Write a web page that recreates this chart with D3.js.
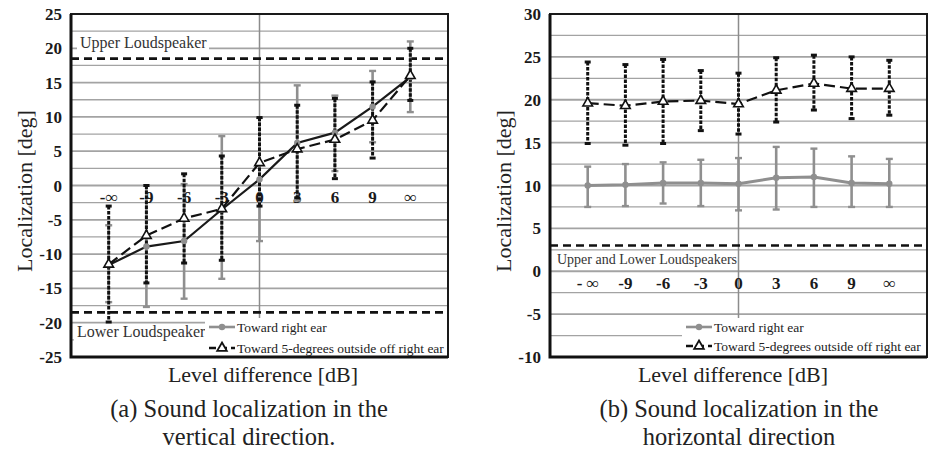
<!DOCTYPE html>
<html>
<head>
<meta charset="utf-8">
<script src="https://cdn.jsdelivr.net/npm/d3@7"></script>
<style>
    body { margin: 0; background: #fff; }
    svg { display: block; font-family: "Liberation Serif", "Times New Roman", serif; }
</style>
</head>
<body>
<svg id="chart" width="928" height="454"></svg>
<script>
// categories (level difference, dB)
const categories = ["-∞", "-9", "-6", "-3", "0", "3", "6", "9", "∞"]
const categoryLabelsA = ["-∞", "-9", "-6", "-3", "0", "3", "6", "9", "∞"]
const categoryLabelsB = ["- ∞", "-9", "-6", "-3", "0", "3", "6", "9", "∞"]

// (a) vertical
const vertEar = [-11.6, -8.9, -8.1, -3.5, 0.9, 6.2, 7.7, 11.5, 15.8]
const vertEarHi = [-5.8, 0.0, 0.2, 7.2, 9.9, 14.6, 13.1, 16.7, 21.0]
const vertEarLo = [-17.0, -17.7, -16.5, -13.6, -8.1, -2.2, 2.1, 6.3, 10.7]
const vertOff = [-11.5, -7.3, -4.8, -3.4, 3.3, 5.3, 6.7, 9.5, 16.0]
const vertOffHi = [-3.0, 0.0, 1.7, 4.3, 9.9, 11.7, 12.7, 15.1, 20.0]
const vertOffLo = [-19.9, -14.2, -11.3, -10.9, -3.0, -1.8, 1.0, 4.0, 12.4]
const vertSpeakers = [18.5, -18.5]
const vertTicks = [-25, -20, -15, -10, -5, 0, 5, 10, 15, 20, 25]

// (b) horizontal
const horEar = [10.0, 10.1, 10.3, 10.3, 10.2, 10.9, 11.0, 10.3, 10.2]
const horEarHi = [12.2, 12.5, 12.7, 13.0, 13.2, 14.5, 14.3, 13.4, 13.1]
const horEarLo = [7.5, 7.6, 7.9, 7.6, 7.1, 7.2, 7.5, 7.5, 7.5]
const horOff = [19.6, 19.3, 19.8, 19.9, 19.5, 21.1, 21.9, 21.3, 21.3]
const horOffHi = [24.4, 24.1, 24.7, 23.4, 23.1, 24.9, 25.2, 25.0, 24.6]
const horOffLo = [14.9, 14.7, 14.9, 16.4, 16.0, 17.4, 18.8, 17.8, 18.2]
const horSpeakers = [3]
const horTicks = [-10, -5, 0, 5, 10, 15, 20, 25, 30]

const legendNames = ["Toward right ear", "Toward 5-degrees outside off right ear"]

const svg = d3.select("#chart")

function panel(cfg) {
    const g = svg.append("g")
    const x = d3.scalePoint().domain(categories).range([cfg.left, cfg.right]).padding(1)
    const y = d3.scaleLinear().domain(cfg.domain).range([cfg.bottom, cfg.top])

    const clipId = "clip-" + cfg.id
    svg.append("defs").append("clipPath").attr("id", clipId)
        .append("rect")
        .attr("x", cfg.left).attr("y", cfg.top)
        .attr("width", cfg.right - cfg.left).attr("height", cfg.bottom - cfg.top)

    /* GRID LINES (every 2.5 deg) */
    g.selectAll(".grid")
        .data(d3.range(cfg.domain[0], cfg.domain[1] + 0.01, 2.5))
        .enter().append("line")
        .attr("x1", cfg.left).attr("x2", cfg.right)
        .attr("y1", d => y(d)).attr("y2", d => y(d))
        .attr("stroke", "#a3a3a3")
        .attr("stroke-width", d => d % 5 === 0 ? 1.8 : 1.3)

    // value axis crossing at 0 dB
    g.append("line")
        .attr("x1", x("0")).attr("x2", x("0"))
        .attr("y1", cfg.top).attr("y2", cfg.bottom)
        .attr("stroke", "#8c8c8c").attr("stroke-width", 1.5)

    /* Y TICK LABELS */
    g.selectAll(".ytick")
        .data(cfg.ticks)
        .enter().append("text")
        .attr("x", cfg.left - 9)
        .attr("y", d => y(d) + 6)
        .attr("text-anchor", "end")
        .attr("font-size", 17)
        .attr("font-weight", "bold")
        .attr("fill", "#1a1a1a")
        .text(d => String(d))

    // loudspeaker reference lines
    g.selectAll(".speaker")
        .data(cfg.speakers)
        .enter().append("line")
        .attr("x1", cfg.left).attr("x2", cfg.right)
        .attr("y1", d => y(d)).attr("y2", d => y(d))
        .attr("stroke", "#111").attr("stroke-width", 2.6)
        .attr("stroke-dasharray", "8,5")

    // loudspeaker labels with white background
    cfg.notes.forEach(n => {
        g.append("rect")
            .attr("x", n.x - 3).attr("y", n.y - 13)
            .attr("width", n.w).attr("height", 17)
            .attr("fill", "#fff")
        g.append("text")
            .attr("x", n.x).attr("y", n.y)
            .attr("font-size", n.size)
            .attr("fill", "#333")
            .text(n.text)
    })

    // category labels next to the horizontal axis
    g.selectAll(".cat")
        .data(categories)
        .enter().append("text")
        .attr("x", d => x(d))
        .attr("y", y(cfg.catLabelAt))
        .attr("text-anchor", "middle")
        .attr("font-size", 17)
        .attr("font-weight", "bold")
        .attr("fill", "#1a1a1a")
        .text((d, i) => cfg.catLabels[i])

    /* ERROR BARS */
    function errorBars(hi, lo, color, dashed, capW) {
        const eb = g.append("g")
        eb.selectAll("line.v")
            .data(categories)
            .enter().append("line")
            .attr("x1", d => x(d)).attr("x2", d => x(d))
            .attr("y1", (d, i) => y(hi[i])).attr("y2", (d, i) => y(lo[i]))
            .attr("stroke", color)
            .attr("stroke-width", dashed ? 3 : 2.6)
            .attr("stroke-dasharray", dashed ? "3.5,1.5" : null)
        ;[hi, lo].forEach(arr => {
            eb.selectAll(null)
                .data(categories)
                .enter().append("line")
                .attr("x1", d => x(d) - capW / 2).attr("x2", d => x(d) + capW / 2)
                .attr("y1", (d, i) => y(arr[i])).attr("y2", (d, i) => y(arr[i]))
                .attr("stroke", color)
                .attr("stroke-width", dashed ? 3 : 2.4)
        })
    }
    errorBars(cfg.earHi, cfg.earLo, "#8f8f8f", false, 7)
    errorBars(cfg.offHi, cfg.offLo, "#111", true, 6)

    /* LINES */
    const line = d3.line().x((d, i) => x(categories[i])).y(d => y(d))
    g.append("path")
        .datum(cfg.ear)
        .attr("d", line)
        .attr("fill", "none")
        .attr("stroke", cfg.earColor)
        .attr("stroke-width", cfg.earWidth)
    g.append("path")
        .datum(cfg.off)
        .attr("d", line)
        .attr("fill", "none")
        .attr("stroke", "#111")
        .attr("stroke-width", 2.2)
        .attr("stroke-dasharray", "11,5")

    /* MARKERS */
    g.selectAll(".m1")
        .data(cfg.ear)
        .enter().append("circle")
        .attr("cx", (d, i) => x(categories[i])).attr("cy", d => y(d))
        .attr("r", 3.2)
        .attr("fill", "#8f8f8f")
    const tri = d3.symbol().type(d3.symbolTriangle).size(40)
    g.selectAll(".m2")
        .data(cfg.off)
        .enter().append("path")
        .attr("transform", (d, i) => `translate(${x(categories[i])}, ${y(d)})`)
        .attr("d", tri)
        .attr("fill", "#fff")
        .attr("stroke", "#111")
        .attr("stroke-width", 1.6)

    /* LEGEND */
    const lg = g.append("g").attr("clip-path", `url(#${clipId})`)
    const L = cfg.legend
    lg.append("rect")
        .attr("x", L.x).attr("y", L.y)
        .attr("width", cfg.right - L.x).attr("height", cfg.bottom - L.y)
        .attr("fill", "#fff")
    lg.append("line")
        .attr("x1", L.x + 4).attr("x2", L.x + 30)
        .attr("y1", L.row1).attr("y2", L.row1)
        .attr("stroke", "#8f8f8f").attr("stroke-width", 2.6)
    lg.append("circle")
        .attr("cx", L.x + 17).attr("cy", L.row1).attr("r", 3.2)
        .attr("fill", "#8f8f8f")
    lg.append("line")
        .attr("x1", L.x + 4).attr("x2", L.x + 30)
        .attr("y1", L.row2).attr("y2", L.row2)
        .attr("stroke", "#111").attr("stroke-width", 2.4)
        .attr("stroke-dasharray", "7,4")
    lg.append("path")
        .attr("transform", `translate(${L.x + 17}, ${L.row2})`)
        .attr("d", tri)
        .attr("fill", "#fff").attr("stroke", "#111").attr("stroke-width", 1.8)
    lg.selectAll(".lt")
        .data(legendNames)
        .enter().append("text")
        .attr("x", L.x + 32)
        .attr("y", (d, i) => (i ? L.row2 : L.row1) + 4.5)
        .attr("font-size", 13.5)
        .attr("fill", "#222")
        .text(d => d)

    /* PLOT BORDER */
    g.append("rect")
        .attr("x", cfg.left).attr("y", cfg.top)
        .attr("width", cfg.right - cfg.left).attr("height", cfg.bottom - cfg.top)
        .attr("fill", "none").attr("stroke", "#1a1a1a").attr("stroke-width", 2)
    g.append("path")
        .attr("d", `M${cfg.left},${cfg.top} V${cfg.bottom} H${cfg.right}`)
        .attr("fill", "none").attr("stroke", "#111").attr("stroke-width", 3)

    /* AXIS TITLES AND CAPTION */
    g.append("text")
        .attr("transform", `translate(${cfg.titleX}, 191) rotate(-90)`)
        .attr("text-anchor", "middle")
        .attr("font-size", 22)
        .attr("fill", "#222")
        .text("Localization [deg]")
    g.append("text")
        .attr("x", cfg.xTitleX).attr("y", 382)
        .attr("text-anchor", "middle")
        .attr("font-size", 22)
        .attr("fill", "#222")
        .text("Level difference [dB]")
    cfg.caption.forEach((t, i) => {
        g.append("text")
            .attr("x", cfg.captionX).attr("y", 417 + i * 28)
            .attr("text-anchor", "middle")
            .attr("font-size", 24.5)
            .attr("fill", "#222")
            .text(t)
    })
}

panel({
    id: "a", left: 71, right: 448, top: 14, bottom: 357,
    domain: [-25, 25], ticks: vertTicks,
    ear: vertEar, earHi: vertEarHi, earLo: vertEarLo,
    off: vertOff, offHi: vertOffHi, offLo: vertOffLo,
    earColor: "#1a1a1a", earWidth: 2.2,
    speakers: vertSpeakers,
    notes: [
        { text: "Upper Loudspeaker", x: 80, y: 48, w: 132, size: 16 },
        { text: "Lower Loudspeaker", x: 77, y: 337, w: 134, size: 16 }
    ],
    catLabels: categoryLabelsA, catLabelAt: -2.6,
    legend: { x: 205, y: 318, row1: 327, row2: 348 },
    titleX: 32, xTitleX: 263, captionX: 249,
    caption: ["(a) Sound localization in the", "vertical direction."]
})

panel({
    id: "b", left: 550, right: 927, top: 14, bottom: 357,
    domain: [-10, 30], ticks: horTicks,
    ear: horEar, earHi: horEarHi, earLo: horEarLo,
    off: horOff, offHi: horOffHi, offLo: horOffLo,
    earColor: "#8f8f8f", earWidth: 3,
    speakers: horSpeakers,
    notes: [
        { text: "Upper and Lower Loudspeakers", x: 557, y: 264, w: 182, size: 14 }
    ],
    catLabels: categoryLabelsB, catLabelAt: -2.1,
    legend: { x: 682, y: 318, row1: 327, row2: 346 },
    titleX: 511, xTitleX: 733, captionX: 739,
    caption: ["(b) Sound localization in the", "horizontal direction"]
})
</script>
</body>
</html>
